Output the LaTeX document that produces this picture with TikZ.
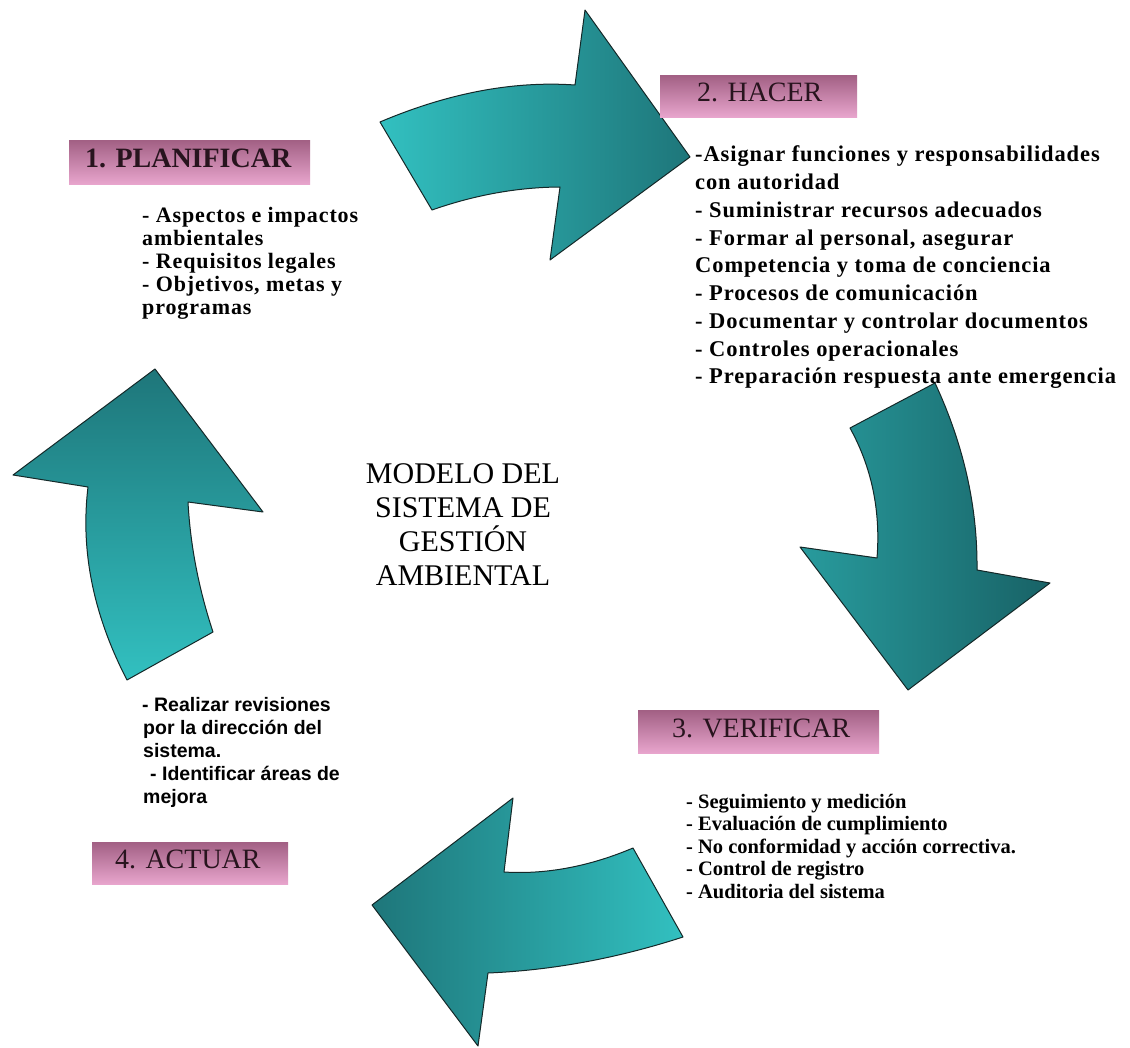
\documentclass[tikz,border=0pt]{standalone}
\usepackage{fontspec}
\setmainfont{Liberation Serif}
\newfontfamily\planfont[LetterSpace=4]{Liberation Serif}
\newfontfamily\hacerfont[LetterSpace=4]{Liberation Serif}
\newfontfamily\verifont{Liberation Serif}
\newfontfamily\actfont{Liberation Sans}
\definecolor{pinkD}{RGB}{162,96,132}
\definecolor{pinkL}{RGB}{232,165,205}
\definecolor{tealL}{RGB}{50,192,192}
\definecolor{tealD}{RGB}{30,118,122}
\definecolor{tealM}{RGB}{40,155,157}
\definecolor{tealDD}{RGB}{24,98,102}
\definecolor{titleink}{RGB}{40,20,30}
\definecolor{edge}{RGB}{20,40,40}
\begin{document}
\begin{tikzpicture}[x=1pt,y=-1pt,
  arrowshape/.style={draw=edge, line width=1pt, line join=round},
  titlebox/.style={top color=pinkD, bottom color=pinkL, draw=none, inner sep=0pt, anchor=north west},
  titletext/.style={anchor=base west, inner sep=0pt, text=titleink, font=\fontsize{28}{30}\selectfont},
  plantext/.style={anchor=base west, inner sep=0pt, font=\planfont\bfseries\fontsize{22}{23}\selectfont},
  hacertext/.style={anchor=base west, inner sep=0pt, font=\hacerfont\bfseries\fontsize{22.5}{27}\selectfont},
  veritext/.style={anchor=base west, inner sep=0pt, font=\verifont\bfseries\fontsize{20.5}{22}\selectfont},
  acttext/.style={anchor=base west, inner sep=0pt, font=\actfont\bfseries\fontsize{19.5}{22}\selectfont},
  centertext/.style={anchor=base, inner sep=0pt, font=\fontsize{30}{33}\selectfont}
]
\useasboundingbox[fill=white] (0,0) rectangle (1130,1048);

% ---- arrows ----
% top arrow (to HACER)
\path[arrowshape, left color=tealL, right color=tealD]
  (380,122) .. controls (448.3,93) and (513.3,80.7) .. (575,85)
  -- (585,10) -- (690,157) -- (550,260) -- (560,187)
  .. controls (517.3,187.3) and (474.7,195) .. (432,210)
  -- cycle;
% right arrow (to VERIFICAR)
\path[arrowshape, left color=tealM, right color=tealDD]
  (935,383) .. controls (963.7,444.7) and (977.7,507) .. (977,570)
  -- (1050,583) -- (908,690) -- (800,547) -- (877,558)
  .. controls (880.7,510.7) and (871.7,467.3) .. (850,428)
  -- cycle;
% bottom arrow (to ACTUAR)
\path[arrowshape, left color=tealD, right color=tealL]
  (683,937) .. controls (617.3,958.3) and (552.3,970.3) .. (488,973)
  -- (478,1046) -- (372,905) -- (513,798) -- (504,872)
  .. controls (546.3,874.7) and (589.7,866.3) .. (633,848)
  -- cycle;
% left arrow (to PLANIFICAR)
\path[arrowshape, top color=tealD, bottom color=tealL]
  (213,632) .. controls (198.7,588.7) and (190.3,545.3) .. (188,502)
  -- (263,512) -- (155,369) -- (13,475) -- (88,487)
  .. controls (80.3,550.7) and (93.3,615) .. (127,680)
  -- cycle;

% ---- title boxes ----
\node[titlebox, minimum width=241pt, minimum height=44pt] (box1) at (69,140) {};
\node[titletext, font=\bfseries\fontsize{28}{30}\selectfont] (lab1) at (85,168) {1. PLANIFICAR};
\node[titlebox, minimum width=197pt, minimum height=42pt] (box2) at (660,75) {};
\node[titletext] (lab2) at (697,102) {2. HACER};
\node[titlebox, minimum width=241pt, minimum height=43pt] (box3) at (638,710) {};
\node[titletext] (lab3) at (672,737) {3. VERIFICAR};
\node[titlebox, minimum width=196pt, minimum height=42pt] (box4) at (92,842) {};
\node[titletext] (lab4) at (115,868) {4. ACTUAR};

% ---- lists ----
\foreach \t [count=\i] in {{- Aspectos e impactos},{ambientales},{- Requisitos legales},{- Objetivos, metas y},{programas}}
  \node[plantext] (plan\i) at (142,{223+23*(\i-1)}) {\t};

\foreach \t [count=\i] in {{-Asignar funciones y responsabilidades},{con autoridad},{- Suministrar recursos adecuados},{- Formar al personal, asegurar},{Competencia y toma de conciencia},{- Procesos de comunicación},{- Documentar y controlar documentos},{- Controles operacionales},{- Preparación respuesta ante emergencia}}
  \node[hacertext] (hacer\i) at (695,{162+27.75*(\i-1)}) {\t};

\foreach \t [count=\i] in {{- Seguimiento y medición},{- Evaluación de cumplimiento},{- No conformidad y acción correctiva.},{- Control de registro},{- Auditoria del sistema}}
  \node[veritext] (veri\i) at (686,{808+22.5*(\i-1)}) {\t};

\node[acttext] (act1) at (142,711) {- Realizar revisiones};
\node[acttext] (act2) at (143,734) {por la dirección del};
\node[acttext] (act3) at (143,757) {sistema.};
\node[acttext] (act4) at (150,780) {- Identificar áreas de};
\node[acttext] (act5) at (143,803) {mejora};

% ---- centre ----
\foreach \t [count=\i] in {{MODELO DEL},{SISTEMA DE},{GESTIÓN},{AMBIENTAL}}
  \node[centertext] (mid\i) at (463,{483+34*(\i-1)}) {\t};
\end{tikzpicture}
\end{document}
